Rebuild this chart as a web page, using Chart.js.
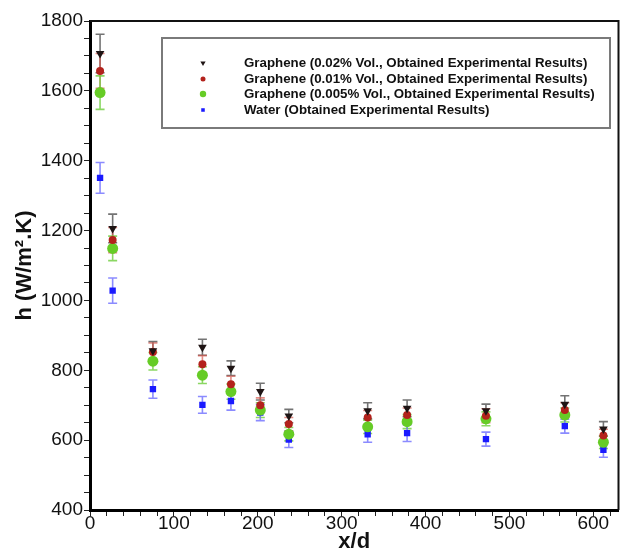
<!DOCTYPE html>
<html>
<head>
<meta charset="utf-8">
<script src="https://cdn.jsdelivr.net/npm/chart.js"></script>
<style>
  html, body { margin: 0; padding: 0; background: #fff; }
  #wrap { width: 624px; height: 553px; }
</style>
</head>
<body>
<div id="wrap"><canvas id="graficoH" width="624" height="553"></canvas></div>
<script>
// posições x/d das estações de medição
const posicoes = [12, 27, 75, 134, 168, 203, 237, 331, 378, 472, 566, 612];

// coeficiente h (W/m².K) de cada fluido
const grafeno002 = [1707, 1206, 856, 866, 806, 739, 669, 684, 691, 684, 703, 632];
const grafeno001 = [1657, 1173, 852, 817, 760, 700, 646, 665, 672, 670, 686, 613];
const grafeno0005 = [1595, 1149, 826, 786, 739, 686, 617, 638, 653, 661, 672, 594];
const agua = [1351, 1028, 746, 701, 712, 679, 602, 617, 620, 603, 640, 572];

// incertezas (±) de cada ponto
const erro002 = [55, 41, 26, 23, 21, 24, 19, 23, 24, 19, 24, 21];
const erro001 = [50, 36, 26, 25, 23, 21, 19, 20, 20, 20, 21, 18];
const erro0005 = [48, 35, 25, 24, 22, 21, 19, 19, 20, 20, 20, 18];
const erroAgua = [44, 36, 26, 24, 26, 23, 23, 23, 24, 20, 20, 21];

const rotulos = [
    'Graphene (0.02% Vol., Obtained Experimental Results)',
    'Graphene (0.01% Vol., Obtained Experimental Results)',
    'Graphene (0.005% Vol., Obtained Experimental Results)',
    'Water (Obtained Experimental Results)'
];

const FONTE = '"Liberation Sans", Arial, sans-serif';

function pontos(valores) {
    return posicoes.map((x, i) => ({ x: x, y: valores[i] }));
}

const series = [
    { label: rotulos[0], data: pontos(grafeno002), erro: erro002,
      pointStyle: 'triangle', rotation: 180, radius: 5,
      cor: '#1e1414', corErro: 'rgba(80,80,80,0.8)' },
    { label: rotulos[1], data: pontos(grafeno001), erro: erro001,
      pointStyle: 'circle', rotation: 0, radius: 4,
      cor: '#b3221c', corErro: 'rgba(215,90,80,0.7)' },
    { label: rotulos[2], data: pontos(grafeno0005), erro: erro0005,
      pointStyle: 'circle', rotation: 0, radius: 5.5,
      cor: '#66cc26', corErro: 'rgba(110,205,60,0.8)' },
    { label: rotulos[3], data: pontos(agua), erro: erroAgua,
      pointStyle: 'rect', rotation: 0, radius: 4.5,
      cor: '#1a1aff', corErro: 'rgba(110,110,255,0.8)' }
];

// Barras de erro desenhadas antes dos marcadores
const barrasErro = {
    id: 'barrasErro',
    beforeDatasetsDraw(chart) {
        const ctx = chart.ctx;
        const sx = chart.scales.x, sy = chart.scales.y;
        ctx.save();
        ctx.lineWidth = 1.6;
        chart.data.datasets.forEach((ds) => {
            ctx.strokeStyle = ds.corErro;
            ds.data.forEach((p, i) => {
                const px = sx.getPixelForValue(p.x);
                const yTop = sy.getPixelForValue(p.y + ds.erro[i]);
                const yBot = sy.getPixelForValue(p.y - ds.erro[i]);
                ctx.beginPath();
                ctx.moveTo(px, yTop); ctx.lineTo(px, yBot);
                ctx.moveTo(px - 4.5, yTop); ctx.lineTo(px + 4.5, yTop);
                ctx.moveTo(px - 4.5, yBot); ctx.lineTo(px + 4.5, yBot);
                ctx.stroke();
            });
        });
        ctx.restore();
    }
};

// Moldura superior/direita e legenda dentro da área do gráfico
const molduraLegenda = {
    id: 'molduraLegenda',
    afterDraw(chart) {
        const ctx = chart.ctx;
        const a = chart.chartArea;
        ctx.save();
        ctx.strokeStyle = '#111';
        ctx.lineWidth = 2;
        ctx.beginPath();
        ctx.moveTo(a.left, a.top); ctx.lineTo(a.right, a.top); ctx.lineTo(a.right, a.bottom);
        ctx.stroke();

        // caixa da legenda
        ctx.strokeStyle = '#7a7a7a';
        ctx.lineWidth = 2;
        ctx.strokeRect(162, 38, 448, 90);

        ctx.font = 'bold 13.3px ' + FONTE;
        ctx.textBaseline = 'middle';
        const linhasY = [63, 79, 94, 110];
        const tamanhos = [3, 2.5, 3.2, 2.5];
        chart.data.datasets.forEach((ds, i) => {
            ctx.fillStyle = ds.backgroundColor;
            ctx.strokeStyle = ds.backgroundColor;
            Chart.helpers.drawPoint(ctx, {
                pointStyle: ds.pointStyle, radius: tamanhos[i],
                rotation: ds.rotation, borderWidth: 0
            }, 203, linhasY[i]);
            ctx.fillStyle = '#111';
            ctx.fillText(ds.label, 244, linhasY[i]);
        });
        ctx.restore();
    }
};

const dados = {
    datasets: series.map(s => ({
        label: s.label,
        data: s.data,
        erro: s.erro,
        corErro: s.corErro,
        pointStyle: s.pointStyle,
        rotation: s.rotation,
        pointRotation: s.rotation,
        pointRadius: s.radius,
        pointHoverRadius: s.radius,
        backgroundColor: s.cor,
        borderColor: s.cor,
        borderWidth: 0,
        showLine: false
    }))
};

const eixoComum = {
    border: { display: true, color: '#000', width: 3 },
    grid: { drawOnChartArea: false, drawTicks: true, tickLength: 6, color: '#222', lineWidth: 1 }
};

const configuracao = {
    type: 'scatter',
    data: dados,
    options: {
        responsive: false,
        animation: false,
        layout: { padding: { top: 21, right: 2, left: 0, bottom: 0 } },
        plugins: {
            legend: { display: false },
            tooltip: { enabled: false }
        },
        scales: {
            x: Object.assign({}, eixoComum, {
                type: 'linear',
                min: 0,
                max: 630,
                afterFit: (s) => { s.height = 43; },
                ticks: {
                    stepSize: 20,
                    includeBounds: false,
                    autoSkip: false,
                    maxRotation: 0,
                    padding: -4,
                    color: '#111',
                    font: { family: FONTE, size: 19 },
                    callback: (v) => (v % 100 === 0 ? v : '')
                },
                title: {
                    display: true,
                    text: 'x/d',
                    color: '#111',
                    font: { family: FONTE, size: 22, weight: 'bold' },
                    padding: { top: 0, bottom: -2 }
                }
            }),
            y: Object.assign({}, eixoComum, {
                type: 'linear',
                min: 400,
                max: 1800,
                afterFit: (s) => { s.width = 90; },
                ticks: {
                    stepSize: 50,
                    autoSkip: false,
                    padding: 1,
                    color: '#111',
                    font: { family: FONTE, size: 19 },
                    callback: (v) => (v % 200 === 0 ? v : '')
                },
                title: {
                    display: true,
                    text: 'h (W/m².K)',
                    color: '#111',
                    font: { family: FONTE, size: 22, weight: 'bold' },
                    padding: { top: 12, bottom: 0 }
                }
            })
        }
    },
    plugins: [barrasErro, molduraLegenda]
};

const graficoH = new Chart(document.getElementById('graficoH').getContext('2d'), configuracao);
</script>
</body>
</html>
